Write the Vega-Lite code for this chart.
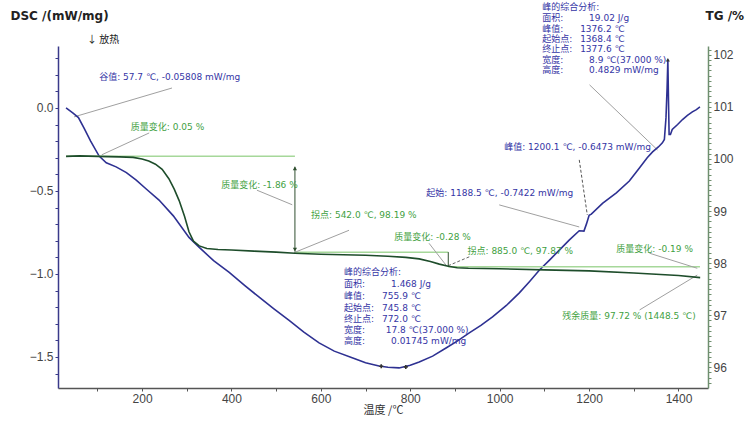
{
  "$schema": "https://vega.github.io/schema/vega-lite/v6.json",
  "width": 650,
  "height": 342,
  "autosize": {"type": "none"},
  "padding": {"left": 58, "top": 46, "right": 44, "bottom": 37},
  "background": "white",
  "config": {
    "view": {"stroke": null},
    "axis": {"grid": false, "labelFont": "Liberation Sans", "titleFont": "DejaVu Sans"}
  },
  "datasets": {
    "dsc": [
      {"T": 30, "v": 0.0}, {"T": 45, "v": -0.03}, {"T": 57.7, "v": -0.058}, {"T": 70, "v": -0.12},
      {"T": 85, "v": -0.2}, {"T": 104, "v": -0.29}, {"T": 120, "v": -0.33}, {"T": 142, "v": -0.355},
      {"T": 165, "v": -0.39}, {"T": 187, "v": -0.435}, {"T": 210, "v": -0.49}, {"T": 238, "v": -0.555},
      {"T": 270, "v": -0.65}, {"T": 305, "v": -0.78}, {"T": 328, "v": -0.84}, {"T": 360, "v": -0.92},
      {"T": 395, "v": -0.99}, {"T": 430, "v": -1.07}, {"T": 462, "v": -1.14}, {"T": 495, "v": -1.21},
      {"T": 529, "v": -1.28}, {"T": 562, "v": -1.35}, {"T": 596, "v": -1.415}, {"T": 630, "v": -1.465},
      {"T": 670, "v": -1.505}, {"T": 700, "v": -1.535}, {"T": 730, "v": -1.554}, {"T": 750, "v": -1.562},
      {"T": 775, "v": -1.566}, {"T": 800, "v": -1.55}, {"T": 820, "v": -1.53}, {"T": 850, "v": -1.495},
      {"T": 880, "v": -1.446}, {"T": 905, "v": -1.405}, {"T": 932, "v": -1.355}, {"T": 958, "v": -1.31},
      {"T": 984, "v": -1.259}, {"T": 1015, "v": -1.19}, {"T": 1044, "v": -1.114}, {"T": 1067, "v": -1.045},
      {"T": 1089, "v": -0.976}, {"T": 1112, "v": -0.915}, {"T": 1134, "v": -0.855}, {"T": 1156, "v": -0.795},
      {"T": 1178, "v": -0.74}, {"T": 1188.5, "v": -0.742}, {"T": 1194, "v": -0.7}, {"T": 1200.1, "v": -0.647},
      {"T": 1205, "v": -0.64}, {"T": 1230, "v": -0.575}, {"T": 1261, "v": -0.512}, {"T": 1290, "v": -0.44},
      {"T": 1313, "v": -0.36}, {"T": 1330, "v": -0.3}, {"T": 1342, "v": -0.265}, {"T": 1355, "v": -0.235},
      {"T": 1364, "v": -0.21}, {"T": 1368.4, "v": -0.19}, {"T": 1372, "v": -0.06}, {"T": 1374.5, "v": 0.12},
      {"T": 1376.2, "v": 0.29}, {"T": 1377.6, "v": 0.05}, {"T": 1379, "v": -0.16}, {"T": 1382, "v": -0.16},
      {"T": 1386, "v": -0.13}, {"T": 1398, "v": -0.1}, {"T": 1409, "v": -0.07}, {"T": 1420, "v": -0.045},
      {"T": 1431, "v": -0.024}, {"T": 1440, "v": -0.01}, {"T": 1448, "v": 0.006}
    ],
    "tg": [
      {"T": 30, "v": 100.05}, {"T": 60, "v": 100.06}, {"T": 100, "v": 100.05}, {"T": 150, "v": 100.04},
      {"T": 180, "v": 100.03}, {"T": 200, "v": 100.0}, {"T": 215, "v": 99.96}, {"T": 230, "v": 99.9},
      {"T": 245, "v": 99.8}, {"T": 260, "v": 99.62}, {"T": 272, "v": 99.42}, {"T": 283, "v": 99.2},
      {"T": 295, "v": 98.9}, {"T": 305, "v": 98.6}, {"T": 315, "v": 98.42}, {"T": 328, "v": 98.33},
      {"T": 345, "v": 98.28}, {"T": 370, "v": 98.26}, {"T": 400, "v": 98.25}, {"T": 450, "v": 98.23},
      {"T": 500, "v": 98.21}, {"T": 542, "v": 98.19}, {"T": 600, "v": 98.17}, {"T": 650, "v": 98.16},
      {"T": 700, "v": 98.15}, {"T": 750, "v": 98.13}, {"T": 790, "v": 98.11}, {"T": 820, "v": 98.08},
      {"T": 845, "v": 98.03}, {"T": 865, "v": 97.98}, {"T": 885, "v": 97.94}, {"T": 905, "v": 97.91},
      {"T": 930, "v": 97.9}, {"T": 1000, "v": 97.89}, {"T": 1100, "v": 97.87}, {"T": 1200, "v": 97.85},
      {"T": 1300, "v": 97.81}, {"T": 1400, "v": 97.76}, {"T": 1448.5, "v": 97.72}
    ],
    "dscLeaders": [
      {"T": 267, "v": 0.12, "T2": 48, "v2": -0.054},
      {"T": 1201, "v": 0.139, "T2": 1353, "v2": -0.253},
      {"T": 999, "v": -0.584, "T2": 1178, "v2": -0.717}
    ],
    "dscDash": [
      {"T": 1178, "v": -0.313, "T2": 1196, "v2": -0.645}
    ],
    "dscMarks": [
      {"T": 1376.2, "v": 0.29, "kind": "peak"},
      {"T": 735, "v": -1.556, "kind": "valley"},
      {"T": 790, "v": -1.56, "kind": "valley"}
    ],
    "dscNotes": [
      {"T": 104, "v": 0.187, "label": "谷值: 57.7 ℃, -0.05808 mW/mg"},
      {"T": 1095, "v": 0.605, "label": "峰的综合分析:"},
      {"T": 1095, "v": 0.541, "label": "面积:"},
      {"T": 1200, "v": 0.541, "label": "19.02 J/g"},
      {"T": 1095, "v": 0.478, "label": "峰值:"},
      {"T": 1180, "v": 0.478, "label": "1376.2 ℃"},
      {"T": 1095, "v": 0.415, "label": "起始点:"},
      {"T": 1180, "v": 0.415, "label": "1368.4 ℃"},
      {"T": 1095, "v": 0.352, "label": "终止点:"},
      {"T": 1180, "v": 0.352, "label": "1377.6 ℃"},
      {"T": 1095, "v": 0.289, "label": "宽度:"},
      {"T": 1200, "v": 0.289, "label": "8.9 ℃(37.000 %)"},
      {"T": 1095, "v": 0.226, "label": "高度:"},
      {"T": 1200, "v": 0.226, "label": "0.4829 mW/mg"},
      {"T": 652, "v": -0.988, "label": "峰的综合分析:"},
      {"T": 652, "v": -1.06, "label": "面积:"},
      {"T": 757, "v": -1.06, "label": "1.468 J/g"},
      {"T": 652, "v": -1.133, "label": "峰值:"},
      {"T": 737, "v": -1.133, "label": "755.9 ℃"},
      {"T": 652, "v": -1.205, "label": "起始点:"},
      {"T": 737, "v": -1.205, "label": "745.8 ℃"},
      {"T": 652, "v": -1.271, "label": "终止点:"},
      {"T": 737, "v": -1.271, "label": "772.0 ℃"},
      {"T": 652, "v": -1.337, "label": "宽度:"},
      {"T": 745, "v": -1.337, "label": "17.8 ℃(37.000 %)"},
      {"T": 652, "v": -1.404, "label": "高度:"},
      {"T": 757, "v": -1.404, "label": "0.01745 mW/mg"},
      {"T": 1010, "v": -0.235, "label": "峰值: 1200.1 ℃, -0.6473 mW/mg"},
      {"T": 836, "v": -0.512, "label": "起始: 1188.5 ℃, -0.7422 mW/mg"}
    ],
    "heat": [
      {"T": 77, "v": 0.41, "label": "↓ 放热"}
    ],
    "tgRefs": [
      {"T": 30, "v": 100.05, "T2": 542, "v2": 100.05},
      {"T": 542, "v": 98.21, "T2": 885, "v2": 98.21},
      {"T": 885, "v": 97.93, "T2": 1448, "v2": 97.93}
    ],
    "tgArrows": [
      {"T": 542, "v": 99.85, "T2": 542, "v2": 98.22},
      {"T": 885, "v": 98.21, "T2": 885, "v2": 97.93}
    ],
    "arrowheads": [
      {"T": 542, "v": 99.82, "dir": "up"},
      {"T": 542, "v": 98.26, "dir": "down"}
    ],
    "tgLeaders": [
      {"T": 216, "v": 100.5, "T2": 110, "v2": 100.08},
      {"T": 457, "v": 99.4, "T2": 536, "v2": 99.12},
      {"T": 663, "v": 98.63, "T2": 540, "v2": 98.2},
      {"T": 842, "v": 98.38, "T2": 880, "v2": 97.96},
      {"T": 1335, "v": 98.19, "T2": 1442, "v2": 97.9},
      {"T": 1313, "v": 97.1, "T2": 1442, "v2": 97.77}
    ],
    "tgDash": [
      {"T": 932, "v": 98.12, "T2": 885, "v2": 97.95}
    ],
    "tgNotes": [
      {"T": 175, "v": 100.62, "label": "质量变化: 0.05 %"},
      {"T": 377, "v": 99.5, "label": "质量变化: -1.86 %"},
      {"T": 578, "v": 98.92, "label": "拐点: 542.0 ℃, 98.19 %"},
      {"T": 764, "v": 98.5, "label": "质量变化: -0.28 %"},
      {"T": 928, "v": 98.23, "label": "拐点: 885.0 ℃, 97.87 %"},
      {"T": 1261, "v": 98.27, "label": "质量变化: -0.19 %"},
      {"T": 1140, "v": 96.98, "label": "残余质量: 97.72 % (1448.5 ℃)"}
    ]
  },
  "encoding": {
    "x": {
      "field": "T",
      "type": "quantitative",
      "scale": {"domain": [12, 1466], "nice": false, "zero": false},
      "axis": {
        "title": "温度 /℃",
        "titleFont": "Noto Sans CJK SC",
        "titleFontSize": 11,
        "titleFontWeight": "normal",
        "titleColor": "#333",
        "titlePadding": 0,
        "values": [100, 200, 300, 400, 500, 600, 700, 800, 900, 1000, 1100, 1200, 1300, 1400],
        "format": "d",
        "labelExpr": "datum.value % 200 == 0 ? datum.label : ''",
        "labelFontSize": 12,
        "labelColor": "#444",
        "labelPadding": 2,
        "tickSize": 3,
        "domainColor": "#555",
        "tickColor": "#555",
        "domainWidth": 1.5
      }
    }
  },
  "layer": [
    {
      "encoding": {
        "y": {
          "field": "v",
          "type": "quantitative",
          "scale": {"domain": [-1.687, 0.373], "nice": false, "zero": false},
          "axis": {
            "title": "DSC /(mW/mg)",
            "titleAngle": 0,
            "titleAlign": "left",
            "titleBaseline": "middle",
            "titleX": -48,
            "titleY": -31,
            "titleFontSize": 12,
            "titleFontWeight": "bold",
            "titleColor": "#222",
            "values": [-1.6, -1.5, -1.4, -1.3, -1.2, -1.1, -1.0, -0.9, -0.8, -0.7, -0.6, -0.5, -0.4, -0.3, -0.2, -0.1, 0.0, 0.1, 0.2, 0.3],
            "labelExpr": "abs(datum.value*2 - round(datum.value*2)) < 0.01 ? format(datum.value, '.1f') : ''",
            "labelFontSize": 12,
            "labelColor": "#444",
            "tickSize": 3,
            "domainColor": "#3a3a8a",
            "tickColor": "#3a3a8a",
            "domainWidth": 1.5
          }
        }
      },
      "layer": [
        {"data": {"name": "dscLeaders"}, "mark": {"type": "rule", "color": "#a0a0a0", "strokeWidth": 1}, "encoding": {"x2": {"field": "T2"}, "y2": {"field": "v2"}}},
        {"data": {"name": "dscDash"}, "mark": {"type": "rule", "color": "#555", "strokeWidth": 1, "strokeDash": [3, 2]}, "encoding": {"x2": {"field": "T2"}, "y2": {"field": "v2"}}},
        {"data": {"name": "dsc"}, "mark": {"type": "line", "color": "#2e3192", "strokeWidth": 1.6}},
        {"data": {"name": "dscMarks"}, "mark": {"type": "point", "filled": true, "color": "#333", "size": 16, "opacity": 1}, "encoding": {"shape": {"field": "kind", "type": "nominal", "scale": {"domain": ["peak", "valley"], "range": ["triangle-up", "cross"]}, "legend": null}}},
        {"data": {"name": "dscNotes"}, "mark": {"type": "text", "align": "left", "baseline": "middle", "fontSize": 9, "font": "DejaVu Sans, Noto Sans CJK SC", "color": "#3535a5"}, "encoding": {"text": {"field": "label"}}},
        {"data": {"name": "heat"}, "mark": {"type": "text", "align": "left", "baseline": "middle", "fontSize": 10, "font": "Noto Sans CJK SC", "color": "#222"}, "encoding": {"text": {"field": "label"}}}
      ]
    },
    {
      "encoding": {
        "y": {
          "field": "v",
          "type": "quantitative",
          "scale": {"domain": [95.6, 102.17], "nice": false, "zero": false},
          "axis": {
            "orient": "right",
            "title": "TG /%",
            "titleAngle": 0,
            "titleAlign": "left",
            "titleBaseline": "middle",
            "titleX": -3,
            "titleY": -31,
            "titleFontSize": 12,
            "titleFontWeight": "bold",
            "titleColor": "#222",
            "values": [95.7, 95.8, 95.9, 96.0, 96.1, 96.2, 96.3, 96.4, 96.5, 96.6, 96.7, 96.8, 96.9, 97.0, 97.1, 97.2, 97.3, 97.4, 97.5, 97.6, 97.7, 97.8, 97.9, 98.0, 98.1, 98.2, 98.3, 98.4, 98.5, 98.6, 98.7, 98.8, 98.9, 99.0, 99.1, 99.2, 99.3, 99.4, 99.5, 99.6, 99.7, 99.8, 99.9, 100.0, 100.1, 100.2, 100.3, 100.4, 100.5, 100.6, 100.7, 100.8, 100.9, 101.0, 101.1, 101.2, 101.3, 101.4, 101.5, 101.6, 101.7, 101.8, 101.9, 102.0, 102.1],
            "labelExpr": "abs(datum.value - round(datum.value)) < 0.01 ? '' + round(datum.value) : ''",
            "labelFontSize": 12,
            "labelColor": "#444",
            "tickSize": 3,
            "domainColor": "#6f8f6f",
            "tickColor": "#6f8f6f",
            "domainWidth": 1.5
          }
        }
      },
      "layer": [
        {"data": {"name": "tgRefs"}, "mark": {"type": "rule", "color": "#a6d89a", "strokeWidth": 1.5}, "encoding": {"x2": {"field": "T2"}, "y2": {"field": "v2"}}},
        {"data": {"name": "tgLeaders"}, "mark": {"type": "rule", "color": "#a0a0a0", "strokeWidth": 1}, "encoding": {"x2": {"field": "T2"}, "y2": {"field": "v2"}}},
        {"data": {"name": "tgDash"}, "mark": {"type": "rule", "color": "#666", "strokeWidth": 1, "strokeDash": [3, 2]}, "encoding": {"x2": {"field": "T2"}, "y2": {"field": "v2"}}},
        {"data": {"name": "tgArrows"}, "mark": {"type": "rule", "color": "#2f4f2f", "strokeWidth": 1}, "encoding": {"x2": {"field": "T2"}, "y2": {"field": "v2"}}},
        {"data": {"name": "arrowheads"}, "mark": {"type": "point", "filled": true, "color": "#2f4f2f", "size": 18, "opacity": 1}, "encoding": {"shape": {"field": "dir", "type": "nominal", "scale": {"domain": ["up", "down"], "range": ["triangle-up", "triangle-down"]}, "legend": null}}},
        {"data": {"name": "tg"}, "mark": {"type": "line", "color": "#1e4d2b", "strokeWidth": 1.6}},
        {"data": {"name": "tgNotes"}, "mark": {"type": "text", "align": "left", "baseline": "middle", "fontSize": 9, "font": "DejaVu Sans, Noto Sans CJK SC", "color": "#3f9f3f"}, "encoding": {"text": {"field": "label"}}}
      ]
    }
  ],
  "resolve": {"scale": {"y": "independent", "shape": "independent"}}
}
